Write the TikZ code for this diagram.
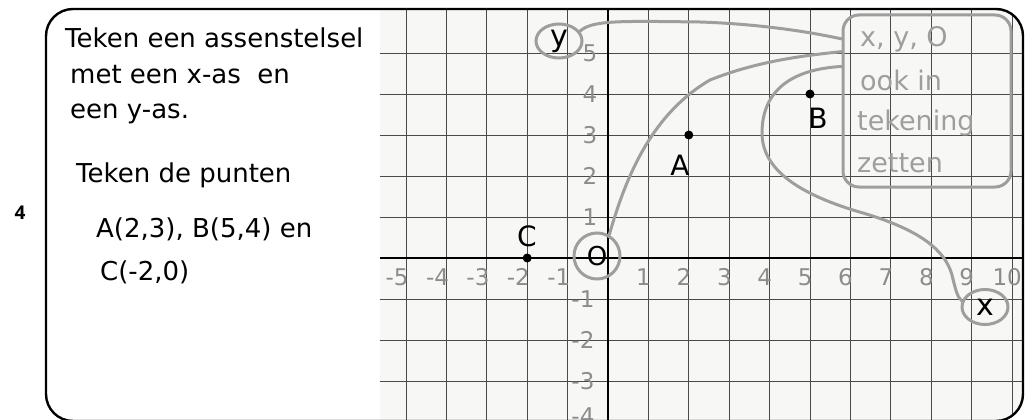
\documentclass[tikz,border=0pt]{standalone}
\usepackage{fontspec}
\setmainfont{DejaVu Sans}
\newfontfamily\qnumfont{Open Sans}
\usetikzlibrary{shapes.geometric}
\definecolor{gridbg}{HTML}{F7F7F5}
\definecolor{gridln}{HTML}{4A4A4A}
\definecolor{hlgray}{HTML}{9E9E9E}
\definecolor{tickgray}{HTML}{8C8C8C}
\begin{document}
\begin{tikzpicture}[x=1pt,y=-1pt,
  frame/.style={draw=black,line width=2.4pt,rounded corners=27pt},
  gridline/.style={draw=gridln,line width=0.9pt},
  axisline/.style={draw=black,line width=2.6pt},
  hand/.style={anchor=base west,inner sep=0pt,font=\fontsize{26}{26}\selectfont},
  tick/.style={inner sep=0pt,text=tickgray,font=\fontsize{23}{23}\selectfont},
  dot/.style={circle,fill=black,minimum size=9pt,inner sep=0pt},
  ptlabel/.style={inner sep=0pt,font=\fontsize{28}{28}\selectfont},
  hlring/.style={ellipse,draw=hlgray,line width=3pt,inner sep=0pt},
  hlcurve/.style={draw=hlgray,line width=3pt,line cap=round},
  notebox/.style={draw=hlgray,line width=3pt,rounded corners=16pt,minimum width=168pt,minimum height=172pt},
  notetext/.style={anchor=base west,inner sep=0pt,text=hlgray,font=\fontsize{27}{27}\selectfont}]
\useasboundingbox (0,0) rectangle (1025,420);
% grid area
\begin{scope}
  \clip[rounded corners=27pt] (46,9) rectangle (1023,421);
  \fill[gridbg] (380,0) rectangle (1025,425);
  \begin{scope}[shift={(608,258)},x=40.4pt,y=41pt]
    \foreach \u in {-5,...,10} \draw[gridline] (\u,6.2) -- (\u,-4.2);
    \foreach \v in {-3,...,5} \draw[gridline] (-5.65,\v) -- (10.4,\v);
    \draw[axisline] (-5.65,0) -- (10.4,0);
    \draw[axisline] (0,6.2) -- (0,-4.2);
  \end{scope}
\end{scope}
\draw[frame] (46,9) rectangle (1023,421);
% question number
\node[font=\qnumfont\bfseries\fontsize{19}{19}\selectfont] (qnum) at (20,213) {4};
% left instructions
\node[hand] (t1) at (65,48) {Teken een assenstelsel};
\node[hand] (t2) at (70,83) {met een x-as \ en};
\node[hand] (t3) at (70,118) {een y-as.};
\node[hand] (t4) at (76,182) {Teken de punten};
\node[hand] (t5) at (96,237) {A(2,3), B(5,4) en};
\node[hand] (t6) at (100,280) {C(-2,0)};
% ticks, points
\begin{scope}[shift={(608,258)},x=40.4pt,y=41pt]
  \foreach \u in {-5,...,-1} \node[tick] (xt\u) at ({\u-0.22},-0.47) {-\the\numexpr-\u\relax};
  \foreach \u in {1,...,10} \node[tick] (xt\u) at ({\u-0.12},-0.47) {\u};
  \foreach \v in {1,...,5} \node[tick] (yt\v) at (-0.45,\v) {\v};
  \foreach \v in {1,...,3} \node[tick] (ytm\v) at (-0.62,-\v) {-\v};
  \node[tick] (ytm4) at (-0.62,-3.86) {-4};
  \node[dot] (pA) at (2,3) {};
  \node[dot] (pB) at (5,4) {};
  \node[dot] (pC) at (-2,0) {};
\end{scope}
\node[ptlabel] (lA) at (680,165) {A};
\node[ptlabel] (lB) at (818,118) {B};
\node[ptlabel] (lC) at (527,236) {C};
% highlighted axis names
\node[hlring,minimum width=46pt,minimum height=34pt,font=\fontsize{30}{30}\selectfont] (ycirc) at (559,41) {y};
\node[hlring,circle,minimum size=46pt,font=\fontsize{26}{26}\selectfont] (ocirc) at (597,256) {O};
\node[hlring,minimum width=46pt,minimum height=35pt,font=\fontsize{30}{30}\selectfont] (xcirc) at (985,307) {x};
% note
\node[notebox] (note) at (927,101) {};
\node[notetext] (n1) at (860,47) {x, y, O};
\node[notetext] (n2) at (860,90) {ook in};
\node[notetext] (n3) at (857,130) {tekening};
\node[notetext] (n4) at (857,172) {zetten};
% connectors
\draw[hlcurve] (ycirc.25) .. controls (592,20) and (620,21) .. (700,22) .. controls (760,24) and (810,32) .. (note.144);
\draw[hlcurve] (ocirc.60) .. controls (625,180) and (650,115) .. (710,80) .. controls (760,60) and (810,55) .. (note.150);
\draw[hlcurve] (note.158) .. controls (780,70) and (762,100) .. (762,133) .. controls (762,170) and (800,195) .. (863,213) .. controls (920,230) and (945,250) .. (952,275) .. controls (956,292) and (958,298) .. (xcirc.165);
\end{tikzpicture}
\end{document}
